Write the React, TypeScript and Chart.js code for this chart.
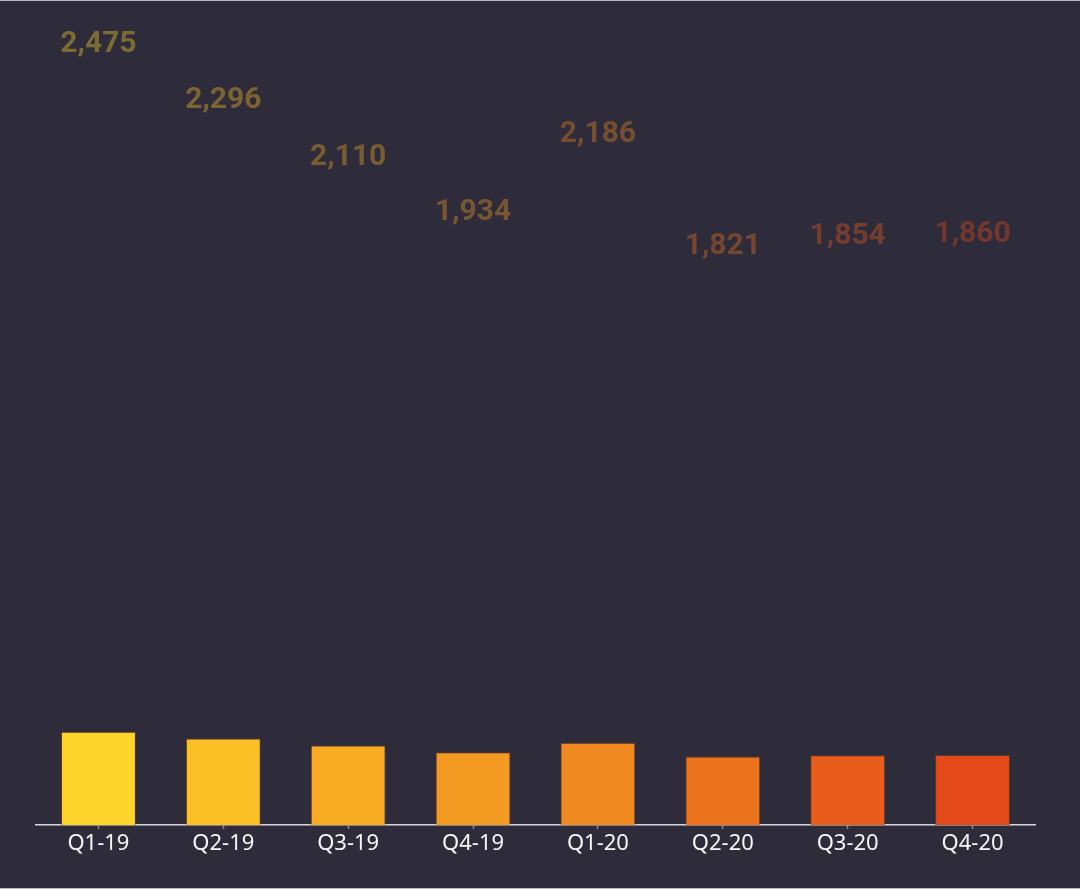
import { useEffect, useRef } from "react";
import { Chart, registerables } from "chart.js";
import type { Plugin } from "chart.js";

Chart.register(...registerables);

const quarters = ["Q1-19", "Q2-19", "Q3-19", "Q4-19", "Q1-20", "Q2-20", "Q3-20", "Q4-20"];
const volumes = [2475, 2296, 2110, 1934, 2186, 1821, 1854, 1860];

const barColors = ["#fdd42a", "#fbbf26", "#f8ab23", "#f39a22", "#f08a20", "#ec731e", "#e85d1c", "#e4491a"];

// draws the value labels at the points of the hidden "labels" dataset
const valueLabels: Plugin<"bar"> = {
  id: "valueLabels",
  afterDatasetsDraw(chart) {
    const meta = chart.getDatasetMeta(1);
    const ctx = chart.ctx;
    ctx.save();
    ctx.font = "bold 30px Roboto, 'DejaVu Sans', sans-serif";
    ctx.textAlign = "center";
    ctx.textBaseline = "middle";
    ctx.globalAlpha = 0.38;
    meta.data.forEach((pt, i) => {
      ctx.fillStyle = barColors[i];
      ctx.fillText(volumes[i].toLocaleString("en-US"), pt.x, pt.y);
    });
    ctx.restore();
  },
};

export default function App() {
  const canvasRef = useRef<HTMLCanvasElement>(null);

  useEffect(() => {
    document.body.style.margin = "0";
    const canvas = canvasRef.current;
    if (!canvas) return;

    const chart = new Chart(canvas, {
      type: "bar",
      data: {
        labels: quarters,
        datasets: [
          {
            data: volumes,
            backgroundColor: barColors,
            borderColor: "rgba(120, 60, 25, 0.7)",
            borderWidth: 1,
            borderSkipped: "bottom",
            barPercentage: 0.6,
            categoryPercentage: 1,
            yAxisID: "y",
          },
          {
            type: "line" as any,
            data: volumes,
            showLine: false,
            pointRadius: 0,
            pointHoverRadius: 0,
            yAxisID: "yl",
          } as any,
        ],
      },
      options: {
        responsive: true,
        maintainAspectRatio: false,
        animation: false,
        layout: { padding: { left: 36, right: 45, top: 9, bottom: 0 } },
        plugins: {
          legend: { display: false },
          tooltip: { enabled: false },
        },
        scales: {
          x: {
            offset: true,
            grid: {
              offset: false,
              drawOnChartArea: false,
              drawTicks: true,
              tickLength: 4,
              tickWidth: 1.5,
              tickColor: "#8a8894",
            },
            border: { display: true, color: "#d8d8dc", width: 1.5 },
            ticks: {
              color: "#f6f6f6",
              padding: 2,
              font: { size: 22, family: "'Noto Sans', sans-serif" },
            },
            afterFit: (scale) => {
              scale.height = 63;
            },
          },
          y: {
            display: false,
            min: 0,
            max: 21650,
          },
          yl: {
            display: false,
            min: -50,
            max: 2588,
          },
        },
      },
      plugins: [valueLabels],
    });

    return () => chart.destroy();
  }, []);

  return (
    <div
      style={{
        width: 1080,
        height: 889,
        boxSizing: "border-box",
        background: "#2e2c3b",
        borderTop: "1px solid #b8b8bc",
        borderBottom: "1px solid #b8b8bc",
      }}
    >
      <div style={{ position: "relative", width: 1080, height: 887 }}>
        <canvas ref={canvasRef} />
      </div>
    </div>
  );
}
